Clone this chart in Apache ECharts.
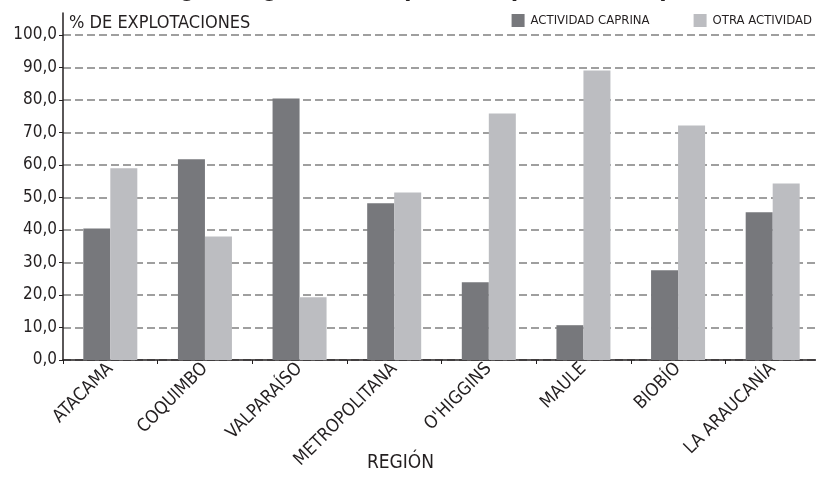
<!DOCTYPE html>
<html>
<head>
<meta charset="utf-8">
<script src="https://cdn.jsdelivr.net/npm/echarts@6/dist/echarts.min.js"></script>
<style>html,body{margin:0;padding:0;background:#fff}#c{width:816px;height:477px}</style>
</head>
<body>
<div id="c"></div>
<script>
const titleText = 'Actividad según región, 2007 (% de explotaciones)';
const yAxisTitle = '% DE EXPLOTACIONES';
const xAxisTitle = 'REGIÓN';
const categories = ['ATACAMA','COQUIMBO','VALPARAÍSO','METROPOLITANA',"O'HIGGINS",'MAULE','BIOBÍO','LA ARAUCANÍA'];
const seriesNames = ['ACTIVIDAD CAPRINA','OTRA ACTIVIDAD'];
const caprina = [40.4, 61.7, 80.4, 48.2, 23.9, 10.7, 27.6, 45.4];
const otra = [59.0, 38.0, 19.3, 51.5, 75.8, 89.0, 72.1, 54.3];

const NARROW = "'Liberation Sans Narrow', 'DejaVu Sans Condensed', sans-serif";
const TXT = '#231f20';
const chart = echarts.init(document.getElementById('c'), null, {renderer:'canvas'});
chart.setOption({
  animation: false,
  graphic: [{
    type: 'text', x: 20, y: -25.5, z: 10,
    style: {text: titleText, font: "bold 27px 'Liberation Sans', sans-serif", fill: TXT, textAlign: 'left'}
  }],
  legend: {
    right: 4, top: 14, itemWidth: 13, itemHeight: 13, itemGap: 44, padding: 0,
    icon: 'rect',
    textStyle: {fontFamily: NARROW, fontSize: 13, color: TXT, padding: [0,0,0,1]},
    data: seriesNames
  },
  grid: {left: 63, right: -4, top: 13, bottom: 117, containLabel: false, outerBoundsMode: 'none'},
  xAxis: {
    type: 'category', data: categories,
    name: xAxisTitle, nameLocation: 'middle', nameGap: 94, nameMoveOverlap: false,
    nameTextStyle: {fontFamily: NARROW, fontSize: 19, color: TXT, padding: [0, 82, 0, 0]},
    axisLine: {lineStyle: {color: '#231f20', width: 1.5}},
    axisTick: {show: true, length: 4, lineStyle: {color: '#231f20'}},
    axisLabel: {rotate: 45, margin: 6, fontFamily: NARROW, fontSize: 18, color: TXT}
  },
  yAxis: {
    type: 'value', min: 0, max: 106.7, interval: 10,
    name: yAxisTitle, nameLocation: 'end', nameGap: -1, nameMoveOverlap: false,
    nameTextStyle: {fontFamily: NARROW, fontSize: 18, color: TXT, align: 'left', verticalAlign: 'top', padding: [0,0,0,6]},
    axisLine: {show: true, lineStyle: {color: '#231f20', width: 1.5}},
    axisTick: {show: true, length: 4, lineStyle: {color: '#231f20'}},
    axisLabel: {showMaxLabel: false, margin: 6, fontFamily: NARROW, fontSize: 17, color: TXT,
      formatter: v => v.toFixed(1).replace('.', ',')},
    splitLine: {show: true, showMaxLine: false, lineStyle: {color: '#808080', width: 1.5, type: [8,4]}}
  },
  series: [
    {name: seriesNames[0], type: 'bar', data: caprina, barWidth: 27, barGap: '0%', itemStyle: {color: '#77787c'}},
    {name: seriesNames[1], type: 'bar', data: otra, barWidth: 27, barGap: '0%', itemStyle: {color: '#bcbdc1'}}
  ]
});
</script>
</body>
</html>
